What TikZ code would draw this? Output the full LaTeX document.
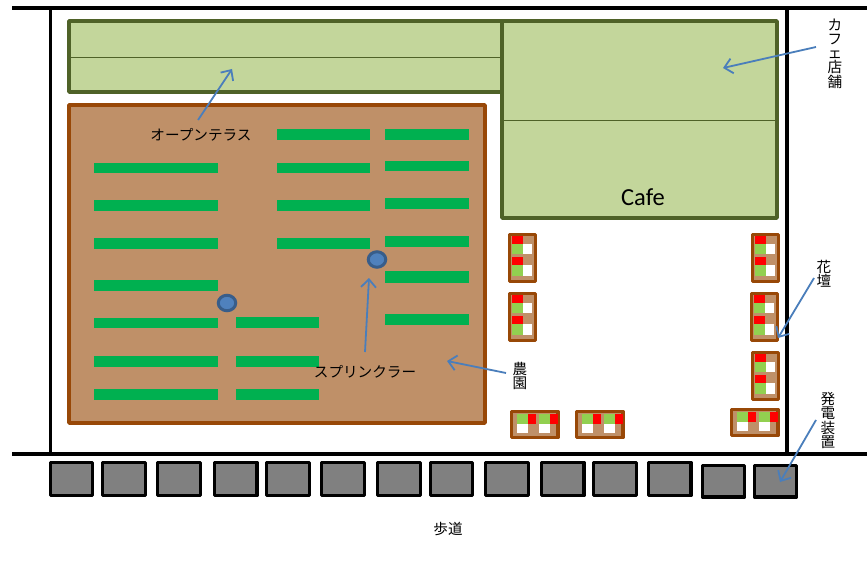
\documentclass[tikz,border=0pt]{standalone}
\usepackage{fontspec}
\setmainfont{Noto Sans CJK JP}
\newfontfamily\cafefont{Carlito}
\usetikzlibrary{arrows.meta,shapes.geometric}
\definecolor{deckgreen}{HTML}{C3D69B}
\definecolor{deckline}{HTML}{4F6228}
\definecolor{soil}{HTML}{BF9068}
\definecolor{soilline}{HTML}{984807}
\definecolor{cropgreen}{HTML}{00B050}
\definecolor{waterblue}{HTML}{4F81BD}
\definecolor{waterline}{HTML}{385D8A}
\definecolor{leafgreen}{HTML}{92D050}
\definecolor{pointer}{HTML}{4A7EBB}
\tikzset{
	wall/.style={line width=3.5pt,black},
	deck/.style={fill=deckgreen,draw=deckline,line width=3.5pt,line join=round},
	deckrule/.style={draw=deckline,line width=0.8pt},
	farm/.style={fill=soil,draw=soilline,line width=3.5pt,line join=round},
	crop/.style={fill=cropgreen},
	sprinkler/.style={ellipse,fill=waterblue,draw=waterline,line width=3pt,minimum width=17.5pt,minimum height=15.5pt,inner sep=0pt},
	panel/.style={fill=black!50,draw=black,line width=3.5pt,line join=round},
	bed/.style={fill=soil,draw=soilline,line width=3.5pt,line join=round},
	pointerline/.style={draw=pointer,line width=1.8pt,-{Straight Barb[length=8pt,width=15pt]}},
	caption/.style={font=\fontsize{14.6}{14.2}\selectfont,inner sep=0pt,align=center},
}
\newcommand{\tallbed}[2]{
	\draw[bed](#1+1.5,#2+1.5)rectangle(#1+27.5,#2+48.5);
	\fill[red](#1+4,#2+2.5)rectangle(#1+15,#2+10.5);
	\fill[leafgreen](#1+4,#2+10.5)rectangle(#1+15,#2+21);
	\fill[white](#1+15,#2+10.5)rectangle(#1+24,#2+21);
	\fill[red](#1+4,#2+23.5)rectangle(#1+15,#2+32);
	\fill[leafgreen](#1+4,#2+32)rectangle(#1+15,#2+43);
	\fill[white](#1+15,#2+32)rectangle(#1+24,#2+43);
}
\newcommand{\widebed}[2]{
	\draw[bed](#1+1.5,#2+1.5)rectangle(#1+48,#2+27.5);
	\fill[leafgreen](#1+6.7,#2+4)rectangle(#1+17.7,#2+14);
	\fill[red](#1+17.7,#2+4)rectangle(#1+26,#2+14);
	\fill[white](#1+6.7,#2+14)rectangle(#1+17.7,#2+23);
	\fill[leafgreen](#1+28.7,#2+4)rectangle(#1+39.7,#2+14);
	\fill[red](#1+39.7,#2+4)rectangle(#1+48,#2+14);
	\fill[white](#1+28.7,#2+14)rectangle(#1+39.7,#2+23);
}
\begin{document}
\begin{tikzpicture}[x=1pt,y=-1pt]
	\useasboundingbox(0,0)rectangle(867,564);
	% site walls
	\draw[wall](12,8)--(867,8);
	\draw[wall](12,454)--(867,454);
	\draw[wall](50.5,8)--(50.5,454);
	\draw[wall](787,8)--(787,454);
	% terrace and cafe
	\draw[deck](69,21)rectangle(502,92);
	\draw[deckrule](69,57)--(502,57);
	\draw[deck](502,21)rectangle(777,218);
	\draw[deckrule](502,120)--(777,120);
	\node[font=\cafefont\fontsize{24.5}{24.5}\selectfont,inner sep=0pt](cafe)at(643,197){Cafe};
	% farm
	\draw[farm](69,105)rectangle(485,423);
	\fill[crop](94,163)rectangle(218,173);
	\fill[crop](94,200)rectangle(218,211);
	\fill[crop](94,238)rectangle(218,249);
	\fill[crop](94,280)rectangle(218,291);
	\fill[crop](94,318)rectangle(218,328);
	\fill[crop](94,356)rectangle(218,367);
	\fill[crop](94,389)rectangle(218,400);
	\fill[crop](277,129)rectangle(370,140);
	\fill[crop](277,163)rectangle(370,173);
	\fill[crop](277,200)rectangle(370,211);
	\fill[crop](277,238)rectangle(370,249);
	\fill[crop](385,129)rectangle(469,140);
	\fill[crop](385,161)rectangle(469,171);
	\fill[crop](385,198)rectangle(469,209);
	\fill[crop](385,236)rectangle(469,247);
	\fill[crop](385,271)rectangle(469,283);
	\fill[crop](385,314)rectangle(469,325);
	\fill[crop](236,317)rectangle(319,328);
	\fill[crop](236,356)rectangle(319,367);
	\fill[crop](236,389)rectangle(319,400);
	\node[sprinkler](sprinklerA)at(377,259.5){};
	\node[sprinkler](sprinklerB)at(227,303){};
	% flower beds
	\tallbed{508}{233}
	\tallbed{508}{292}
	\tallbed{751}{233}
	\tallbed{750}{292}
	\tallbed{751}{351}
	\widebed{510}{410}
	\widebed{575}{410}
	\widebed{730}{408}
	% generator panels
	\draw[panel](50.5,462.5)rectangle(92.5,495.5);
	\draw[panel](102.5,462.5)rectangle(145.5,495.5);
	\draw[panel](157.5,462.5)rectangle(200.5,495.5);
	\draw[panel](214.5,462.5)rectangle(257,495.5);
	\draw[panel](266.5,462.5)rectangle(309.5,495.5);
	\draw[panel](321.5,462.5)rectangle(364.5,495.5);
	\draw[panel](377.5,462.5)rectangle(420.5,495.5);
	\draw[panel](430.5,462.5)rectangle(472.5,495.5);
	\draw[panel](485.5,462.5)rectangle(528.5,495.5);
	\draw[panel](541.5,462.5)rectangle(584,495.5);
	\draw[panel](593.5,462.5)rectangle(636.5,495.5);
	\draw[panel](648.5,462.5)rectangle(691,495.5);
	\draw[panel](702.5,465.5)rectangle(744.5,497);
	\draw[panel](754.5,465.5)rectangle(796.5,497);
	% labels
	\node[caption](terracelabel)at(201,135){オープンテラス};
	\node[caption](sprinklerlabel)at(365,372){スプリンクラー};
	\node[caption](farmlabel)at(520,376){農\\園};
	\node[caption](cafelabel)at(835,53.5){カ\\フ\\ェ\\店\\舗};
	\node[caption](bedlabel)at(824,273.5){花\\壇};
	\node[caption](generatorlabel)at(828,420.5){発\\電\\装\\置};
	\node[caption](walklabel)at(448,529){歩道};
	% pointers
	\coordinate(terracefrom)at(198,120);
	\coordinate(terraceto)at(232,69);
	\coordinate(cafefrom)at(816,47);
	\coordinate(cafeto)at(723,68);
	\coordinate(sprinklerfrom)at(365,352);
	\coordinate(sprinklerto)at(369,278);
	\coordinate(farmfrom)at(506,373);
	\coordinate(farmto)at(447,361);
	\coordinate(bedfrom)at(814,278);
	\coordinate(bedto)at(778,338);
	\coordinate(generatorfrom)at(816,420);
	\coordinate(generatorto)at(780,482);
	\draw[pointerline](terracefrom)--(terraceto);
	\draw[pointerline](cafefrom)--(cafeto);
	\draw[pointerline](sprinklerfrom)--(sprinklerto);
	\draw[pointerline](farmfrom)--(farmto);
	\draw[pointerline](bedfrom)--(bedto);
	\draw[pointerline](generatorfrom)--(generatorto);
\end{tikzpicture}
\end{document}
